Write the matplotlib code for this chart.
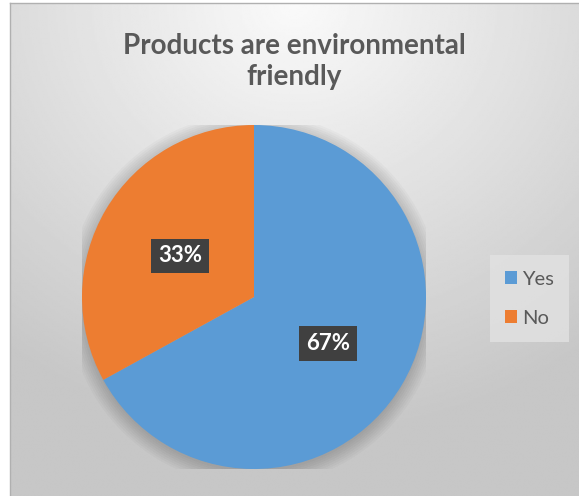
import numpy as np
import matplotlib.pyplot as plt

labels = ["Yes", "No"]
values = [67, 33]
colors = ["#5B9BD5", "#ED7D31"]
title = "Products are environmental\nfriendly"

plt.rcParams['font.family'] = ['Lato', 'DejaVu Sans']

fig = plt.figure(figsize=(5.79, 4.96), dpi=100)

# chart area background with a soft radial gradient
bg = fig.add_axes([10 / 579, 0, 1 - 10 / 579, 1 - 3 / 496])
yy, xx = np.mgrid[0:1:300j, 0:1:350j]
r = np.sqrt(((xx - 0.5) * 1.0) ** 2 + ((yy - 0.0) * 0.95) ** 2)
shade = np.clip(0.98 - 0.24 * r, 0.78, 1)
bg.imshow(shade, cmap="gray", vmin=0, vmax=1, aspect="auto",
          extent=[0, 1, 1, 0], interpolation="bilinear")
bg.set_xlim(0, 1)
bg.set_ylim(1, 0)
for s in bg.spines.values():
    s.set_color("#b0b0b0")
    s.set_linewidth(1)
bg.spines["right"].set_visible(False)
bg.spines["bottom"].set_visible(False)
bg.set_xticks([])
bg.set_yticks([])

# pie
ax = fig.add_axes([82 / 579, 27 / 496, 344 / 579, 344 / 496])
ax.set_facecolor("none")
# soft shadow behind the pie
for k in range(8):
    ax.add_patch(plt.Circle((0.0, -0.015), 1.0 + 0.012 * k, color="black",
                            alpha=0.025, zorder=0, lw=0))
wedges, texts = ax.pie(values, colors=colors, startangle=90, counterclock=False,
                       radius=1.0, wedgeprops=dict(linewidth=0))
for w in wedges:
    w.set_zorder(2)
ax.set_xlim(-1.0, 1.0)
ax.set_ylim(-1.0, 1.0)
ax.set_aspect("equal")
ax.axis("off")

# data labels
for w, v in zip(wedges, values):
    mid = np.deg2rad((w.theta1 + w.theta2) / 2)
    x, y = 0.5 * np.cos(mid), 0.5 * np.sin(mid) - 0.015
    ax.text(x, y, f"{v}%", ha="center", va="center", color="white",
            fontsize=16, fontweight="bold", zorder=5,
            bbox=dict(boxstyle="square,pad=0.3", fc="#404040", ec="none"))

fig.text(0.508, 0.876, title, ha="center", va="center", fontsize=20,
         fontweight="bold", color="#595959", linespacing=1.25)

leg = fig.legend(wedges, labels, loc="center left", bbox_to_anchor=(496 / 579, 0.398),
                 frameon=True, fontsize=14.5, handlelength=0.6, handleheight=0.6,
                 handletextpad=0.25, labelspacing=1.1, borderpad=0.45,
                 borderaxespad=0)
leg.get_frame().set_facecolor("#e2e2e2")
leg.get_frame().set_edgecolor("none")
leg.get_frame().set_boxstyle("square")
for t in leg.get_texts():
    t.set_color("#595959")

fig.savefig("out.png", dpi=100)
